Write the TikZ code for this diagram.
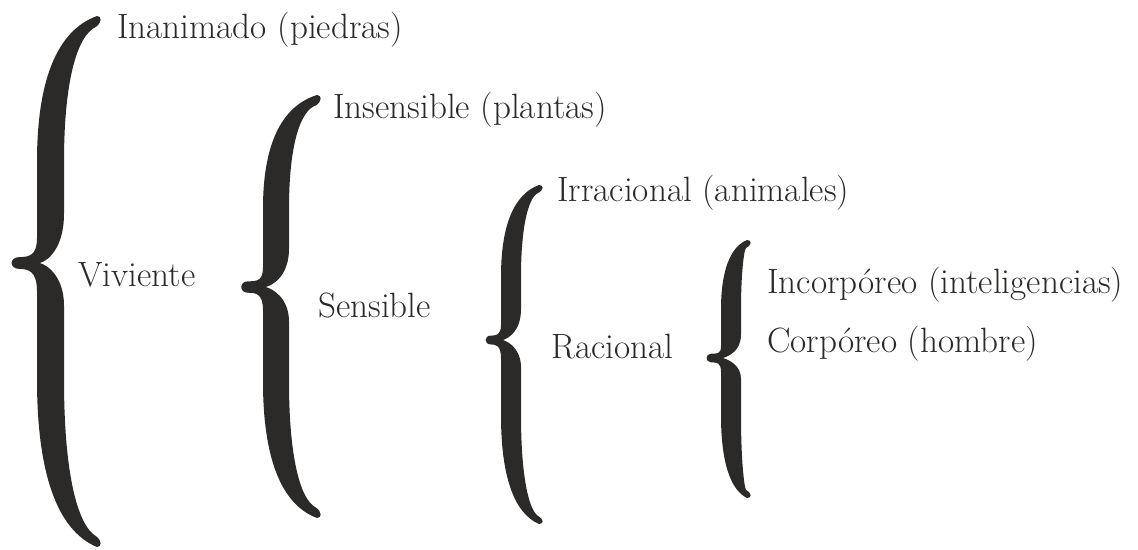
\documentclass[tikz,border=0pt]{standalone}
\usetikzlibrary{positioning}
\definecolor{zink}{RGB}{43, 42, 41}

% filled curly brace: #1 tip x, #2 end x, #3 top y, #4 tip y, #5 bottom y, #6/#7 shaft edges
\newcommand{\curlybrace}[7]{%
  \pgfmathsetmacro{\brHu}{#4-#3}%
  \pgfmathsetmacro{\brHl}{#5-#4}%
  \pgfmathsetmacro{\brTh}{#7-#6}%
  \pgfmathsetmacro{\brK}{0.4*\brTh}%
  \pgfmathsetmacro{\brS}{0.22*\brTh}%
  \pgfmathsetmacro{\brN}{#6+0.1*\brTh}%
  \fill[zink] ({#2-3},#3)
    .. controls ({#6+0.3*(#2-#6)},{#3+0.06*\brHu}) and (#6,{#3+0.27*\brHu}) .. (#6,{#3+0.59*\brHu})
    -- (#6,{#4-0.1*\brHu})
    .. controls (#6,{#4-0.03*\brHu}) and ({#6-0.3*(#6-#1)},{#4-\brS}) .. ({#1+0.35*(#6-#1)},{#4-\brS})
    .. controls ({#1-1},{#4-\brS}) and ({#1-1},{#4+\brS}) .. ({#1+0.35*(#6-#1)},{#4+\brS})
    .. controls ({#6-0.3*(#6-#1)},{#4+\brS}) and (#6,{#4+0.03*\brHl}) .. (#6,{#4+0.1*\brHl})
    -- (#6,{#5-0.59*\brHl})
    .. controls (#6,{#5-0.27*\brHl}) and ({#6+0.3*(#2-#6)},{#5-0.06*\brHl}) .. ({#2-3},#5)
    .. controls ({#2+2},#5) and ({#2+2},{#5-0.6*\brK}) .. ({#2-4},{#5-\brK})
    .. controls ({#7+0.35*(#2-#7)},{#5-0.08*\brHl}) and (#7,{#5-0.27*\brHl}) .. (#7,{#5-0.59*\brHl})
    -- (#7,{#4+0.15*\brHl})
    .. controls (#7,{#4+0.05*\brHl}) and ({\brN+0.3*\brTh},{#4+2}) .. (\brN,#4)
    .. controls ({\brN+0.3*\brTh},{#4-2}) and (#7,{#4-0.06*\brHu}) .. (#7,{#4-0.2*\brHu})
    -- (#7,{#3+0.59*\brHu})
    .. controls (#7,{#3+0.27*\brHu}) and ({#7+0.35*(#2-#7)},{#3+0.08*\brHu}) .. ({#2-4},{#3+\brK})
    .. controls ({#2+2},{#3+0.6*\brK}) and ({#2+2},#3) .. ({#2-3},#3) -- cycle;%
}

\begin{document}
\begin{tikzpicture}[
  x=0.02cm, y=-0.02cm,
  lbl/.style={anchor=base west, inner sep=0pt, text=zink,
              font=\fontsize{20}{24}\selectfont}
]
\useasboundingbox (0,0) rectangle (1138,549);

% braces, outermost first
\curlybrace{10}{100}{16}{263}{547}{37}{64}
\curlybrace{240}{320}{95}{287}{518}{263}{289}
\curlybrace{485}{542}{185}{340}{524}{501}{521}
\curlybrace{706}{750}{240}{358}{498}{721}{741}

% level 1
\node[lbl] (inanimado) at (117,38)  {Inanimado (piedras)};
\node[lbl] (viviente)  at (78,286)  {Viviente};
% level 2
\node[lbl] (insensible) at (333,118) {Insensible (plantas)};
\node[lbl] (sensible)   at (318,317) {Sensible};
% level 3
\node[lbl] (irracional) at (557,201) {Irracional (animales)};
\node[lbl] (racional)   at (551,358) {Racional};
% level 4
\node[lbl] (incorporeo) at (767,293) {Incorpóreo (inteligencias)};
\node[lbl] (corporeo)   at (767,352) {Corpóreo (hombre)};
\end{tikzpicture}
\end{document}
